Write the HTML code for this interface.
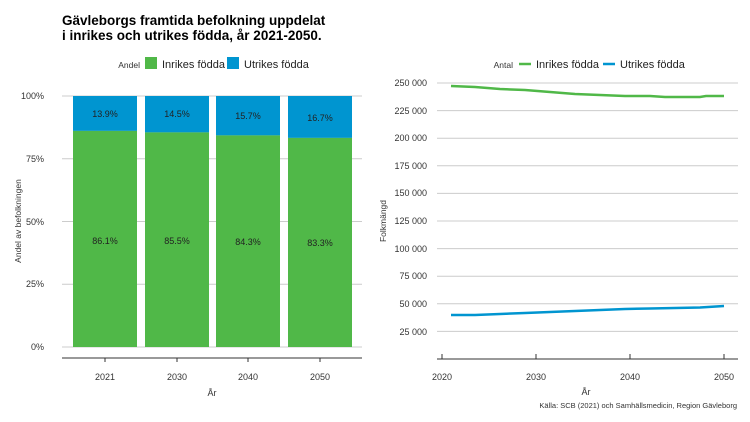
<!DOCTYPE html>
<html><head><meta charset="utf-8"><style>body{margin:0;background:#fff}svg{display:block;font-family:"Liberation Sans",sans-serif}</style></head><body>
<svg width="750" height="422" xmlns="http://www.w3.org/2000/svg">
<text x="62" y="25" font-size="13.5" font-weight="bold" fill="#000">Gävleborgs framtida befolkning uppdelat</text>
<text x="62" y="40" font-size="13.5" font-weight="bold" fill="#000">i inrikes och utrikes födda, år 2021-2050.</text>
<text x="140" y="68" font-size="8.5" fill="#333" text-anchor="end">Andel</text>
<rect x="145" y="57" width="12" height="12" fill="#50b848"/>
<text x="162" y="68" font-size="11" fill="#222">Inrikes födda</text>
<rect x="227" y="57" width="12" height="12" fill="#0095d0"/>
<text x="244" y="68" font-size="11" fill="#222">Utrikes födda</text>
<g stroke="#ccc" stroke-width="1">
<line x1="62" y1="96" x2="362" y2="96"/><line x1="62" y1="158.75" x2="362" y2="158.75"/><line x1="62" y1="221.5" x2="362" y2="221.5"/><line x1="62" y1="284.25" x2="362" y2="284.25"/><line x1="62" y1="347" x2="362" y2="347"/>
</g>
<g font-size="9" fill="#333" text-anchor="end">
<text x="44" y="99">100%</text><text x="44" y="162">75%</text><text x="44" y="225">50%</text><text x="44" y="287">25%</text><text x="44" y="350">0%</text>
</g>
<g>
<rect x="73" y="96" width="64" height="34.9" fill="#0095d0"/><rect x="73" y="130.9" width="64" height="216.1" fill="#50b848"/>
<rect x="145" y="96" width="64" height="36.4" fill="#0095d0"/><rect x="145" y="132.4" width="64" height="214.6" fill="#50b848"/>
<rect x="216" y="96" width="64" height="39.4" fill="#0095d0"/><rect x="216" y="135.4" width="64" height="211.6" fill="#50b848"/>
<rect x="288" y="96" width="64" height="41.9" fill="#0095d0"/><rect x="288" y="137.9" width="64" height="209.1" fill="#50b848"/>
</g>
<g font-size="9" fill="#222" text-anchor="middle">
<text x="105" y="117">13.9%</text><text x="177" y="117">14.5%</text><text x="248" y="119">15.7%</text><text x="320" y="121">16.7%</text>
<text x="105" y="244">86.1%</text><text x="177" y="244">85.5%</text><text x="248" y="245">84.3%</text><text x="320" y="246">83.3%</text>
</g>
<line x1="62" y1="358" x2="362" y2="358" stroke="#333"/>
<g stroke="#333"><line x1="105" y1="358" x2="105" y2="362"/><line x1="177" y1="358" x2="177" y2="362"/><line x1="248" y1="358" x2="248" y2="362"/><line x1="320" y1="358" x2="320" y2="362"/></g>
<g font-size="9" fill="#333" text-anchor="middle"><text x="105" y="380">2021</text><text x="177" y="380">2030</text><text x="248" y="380">2040</text><text x="320" y="380">2050</text>
<text x="212" y="396">År</text></g>
<text transform="translate(21,221) rotate(-90)" font-size="8.5" fill="#333" text-anchor="middle">Andel av befolkningen</text>
<text x="513" y="68" font-size="8.5" fill="#333" text-anchor="end">Antal</text>
<line x1="519" y1="64" x2="531" y2="64" stroke="#50b848" stroke-width="2.5"/>
<text x="536" y="68" font-size="11" fill="#222">Inrikes födda</text>
<line x1="603" y1="64" x2="615" y2="64" stroke="#0095d0" stroke-width="2.5"/>
<text x="620" y="68" font-size="11" fill="#222">Utrikes födda</text>
<g stroke="#ccc">
<line x1="437" y1="83" x2="738" y2="83"/><line x1="437" y1="110.6" x2="738" y2="110.6"/><line x1="437" y1="138.2" x2="738" y2="138.2"/><line x1="437" y1="165.8" x2="738" y2="165.8"/><line x1="437" y1="193.4" x2="738" y2="193.4"/><line x1="437" y1="221" x2="738" y2="221"/><line x1="437" y1="248.6" x2="738" y2="248.6"/><line x1="437" y1="276.2" x2="738" y2="276.2"/><line x1="437" y1="303.8" x2="738" y2="303.8"/><line x1="437" y1="331.4" x2="738" y2="331.4"/>
</g>
<g font-size="9" fill="#333" text-anchor="end">
<text x="427" y="86">250 000</text><text x="427" y="114">225 000</text><text x="427" y="141">200 000</text><text x="427" y="169">175 000</text><text x="427" y="196">150 000</text><text x="427" y="224">125 000</text><text x="427" y="252">100 000</text><text x="427" y="279">75 000</text><text x="427" y="307">50 000</text><text x="427" y="335">25 000</text>
</g>
<polyline fill="none" stroke="#50b848" stroke-width="2.5" points="451,86 475,87 500,89 525,90 550,92 575,94 600,95 625,96 650,96 665,97 700,97 706,96 724,96"/>
<polyline fill="none" stroke="#0095d0" stroke-width="2.5" points="451,315 475,315 500,314 525,313 550,312 575,311 600,310 625,309 650,308.5 675,308 700,307.5 724,306"/>
<line x1="437" y1="359" x2="738" y2="359" stroke="#333"/>
<g stroke="#333"><line x1="442" y1="354" x2="442" y2="359"/><line x1="536" y1="354" x2="536" y2="359"/><line x1="630" y1="354" x2="630" y2="359"/><line x1="724" y1="354" x2="724" y2="359"/></g>
<g font-size="9" fill="#333" text-anchor="middle"><text x="442" y="380">2020</text><text x="536" y="380">2030</text><text x="630" y="380">2040</text><text x="724" y="380">2050</text>
<text x="586" y="395">År</text></g>
<text transform="translate(386,221) rotate(-90)" font-size="8.5" fill="#333" text-anchor="middle">Folkmängd</text>
<text x="737" y="408" font-size="7.5" fill="#333" text-anchor="end">Källa: SCB (2021) och Samhällsmedicin, Region Gävleborg</text>
</svg>
</body></html>
